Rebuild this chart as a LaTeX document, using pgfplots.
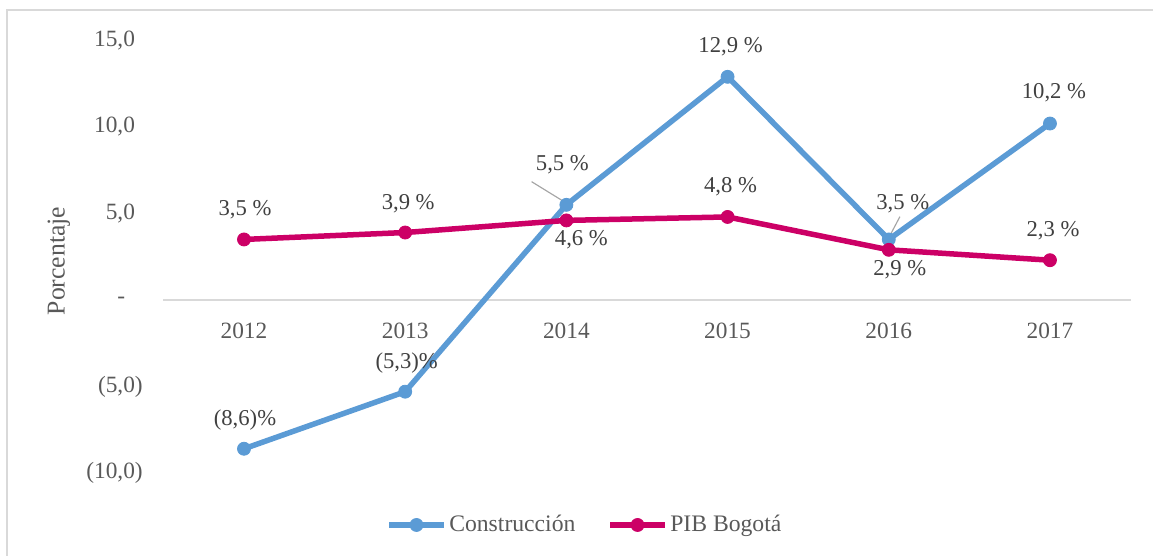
\documentclass[border=0pt]{standalone}
\usepackage{fontspec}
\setmainfont{Liberation Serif}
\usepackage{pgfplots}
\usepackage{pgfplotstable}
\pgfplotsset{compat=1.18}

\definecolor{constr}{HTML}{5B9BD5}
\definecolor{pib}{HTML}{CC0066}
\definecolor{txtgray}{HTML}{595959}
\definecolor{lblgray}{HTML}{404040}
\definecolor{rulegray}{HTML}{D9D9D9}
\definecolor{leader}{HTML}{A6A6A6}

% x = year index (2012 = 0), y = variacion %, label offsets in pt
\pgfplotstableread[col sep=semicolon]{
x;y;lbl;dx;dy
0;-8.6;(8,6)\%;0.6;17.4
1;-5.3;(5,3)\%;0.9;17.4
2;5.5;5,5 \%;-2.4;24
3;12.9;12,9 \%;1.8;18
4;3.5;3,5 \%;8.4;21.6
5;10.2;10,2 \%;2.4;18.6
}\construccion

\pgfplotstableread[col sep=semicolon]{
x;y;lbl;dx;dy
0;3.5;3,5 \%;0.6;18
1;3.9;3,9 \%;1.8;17.4
2;4.6;4,6 \%;9;-11.4
3;4.8;4,8 \%;1.8;18
4;2.9;2,9 \%;6.6;-12
5;2.3;2,3 \%;1.8;17.4
}\pib

\begin{document}
\begin{tikzpicture}
\useasboundingbox (0,0) rectangle (691.8pt,333.6pt);
\draw[rulegray, line width=0.9pt] (4.2pt,0pt) -- (4.2pt,327.6pt) -- (691.8pt,327.6pt);
\begin{axis}[
    at={(98.04pt,49.8pt)}, anchor=south west,
    scale only axis, width=580.3pt, height=259.5pt,
    xmin=-0.5, xmax=5.5, ymin=-10, ymax=15,
    axis x line=middle, axis y line=left,
    axis line style={-},
    x axis line style={draw=rulegray, line width=0.75pt},
    y axis line style={draw=none},
    xtick={0,1,2,3,4,5},
    xticklabels={2012,2013,2014,2015,2016,2017},
    ytick={-10,-5,0,5,10,15},
    yticklabels={{(10,0)},{(5,0)},{-\hspace*{10.6pt}},{5,0\phantom{)}},{10,0\phantom{)}},{15,0\phantom{)}}},
    major tick length=0pt,
    tick label style={font=\fontsize{14}{16}\selectfont, text=txtgray},
    yticklabel style={anchor=east, inner sep=0pt, xshift=-12.2pt},
    xticklabel style={anchor=north, inner sep=0pt, yshift=-13.6pt},
    ylabel={Porcentaje},
    ylabel style={at={(axis description cs:-0.108,0.49)}, anchor=center, font=\fontsize{15.4}{18}\selectfont, text=txtgray},
    clip=false,
    legend style={at={(axis description cs:0.436,-0.1202)}, anchor=center, draw=none, fill=none,
        legend columns=2, font=\fontsize{14.2}{16}\selectfont, text=txtgray,
        nodes={inner sep=1.5pt},
        /tikz/every even column/.append style={column sep=17.6pt}},
    legend cell align=left,
    legend image code/.code={\draw[mark repeat=2,mark phase=2] plot coordinates {(0pt,0pt) (16.5pt,0pt) (33pt,0pt)};},
    every node near coord/.append style={anchor=center, font=\fontsize{13.6}{16}\selectfont, text=lblgray},
]
\draw[leader, line width=0.7pt] (axis cs:1.784,6.84) -- (axis cs:2,5.6);
\draw[leader, line width=0.7pt] (axis cs:4.069,4.815) -- (axis cs:4,3.6);

\addplot[constr, line width=3.3pt, mark=*, mark size=3.9pt,
    mark options={solid, fill=constr, draw=constr, line width=0.5pt},
    nodes near coords, point meta=explicit symbolic,
    visualization depends on={\thisrow{dx} \as \dx},
    visualization depends on={\thisrow{dy} \as \dy},
    nodes near coords style={xshift=\dx pt, yshift=\dy pt, anchor=center}]
    table[x=x, y=y, meta=lbl] {\construccion};
\addlegendentry{Construcción}

\addplot[pib, line width=3.3pt, mark=*, mark size=3.9pt,
    mark options={solid, fill=pib, draw=pib, line width=0.5pt},
    nodes near coords, point meta=explicit symbolic,
    visualization depends on={\thisrow{dx} \as \dx},
    visualization depends on={\thisrow{dy} \as \dy},
    nodes near coords style={xshift=\dx pt, yshift=\dy pt, anchor=center}]
    table[x=x, y=y, meta=lbl] {\pib};
\addlegendentry{PIB Bogotá}
\end{axis}
\end{tikzpicture}
\end{document}
